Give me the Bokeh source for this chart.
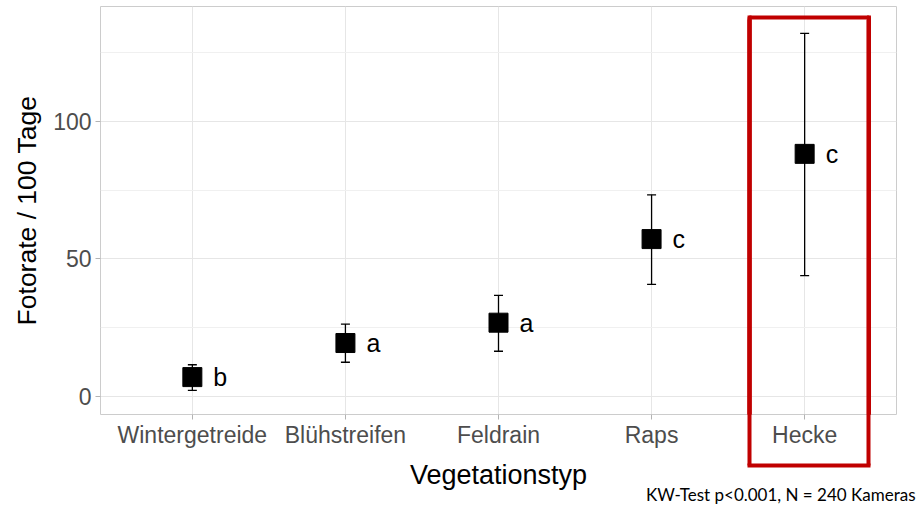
from bokeh.plotting import figure
from bokeh.models import (Whisker, TeeHead, FixedTicker, BoxAnnotation, Title, LinearAxis,
                          ColumnDataSource, Range1d)
from bokeh.core.properties import value
from bokeh.embed import file_html
from bokeh.resources import INLINE

categories = ["Wintergetreide", "Blühstreifen", "Feldrain", "Raps", "Hecke"]
means = [7.0, 19.4, 26.8, 57.2, 88.2]
upper = [11.5, 26.3, 36.7, 73.3, 132.0]
lower = [2.2, 12.4, 16.4, 40.7, 43.9]
letters = ["b", "a", "a", "c", "c"]
y_ticks = [0, 50, 100]
y_minor = [25, 75, 125]
footnote = "KW-Test p<0.001, N = 240 Kameras"
highlight = "Hecke"

xs = list(range(1, len(categories) + 1))
src = ColumnDataSource(dict(x=xs, m=means, up=upper, lo=lower, lab=letters))

FONT = "Liberation Sans"
RED = "#c00000"

p = figure(width=920, height=507, output_backend="svg", toolbar_location=None,
           x_range=Range1d(0.4, len(categories) + 0.6), y_range=Range1d(-6.6, 141.8),
           min_border_left=100, min_border_right=24, min_border_top=6, min_border_bottom=93)
p.background_fill_color = "white"
p.border_fill_color = "white"
p.outline_line_color = "#cccccc"
p.outline_line_width = 1

# grid
p.xgrid.ticker = FixedTicker(ticks=xs)
p.ygrid.ticker = FixedTicker(ticks=y_ticks, minor_ticks=y_minor)
for g in (p.xgrid, p.ygrid):
    g.grid_line_color = "#e6e6e6"
    g.grid_line_width = 1
p.ygrid.minor_grid_line_color = "#f0f0f0"
p.ygrid.minor_grid_line_width = 1

# axes
p.xaxis.ticker = FixedTicker(ticks=xs)
p.xaxis.major_label_overrides = {x: c for x, c in zip(xs, categories)}
p.yaxis.ticker = FixedTicker(ticks=y_ticks, minor_ticks=[])
for ax in (p.xaxis, p.yaxis):
    ax.axis_line_color = None
    ax.major_tick_line_color = "#b3b3b3"
    ax.major_tick_out = 5
    ax.major_tick_in = 0
    ax.minor_tick_line_color = None
    ax.major_label_text_font = FONT
    ax.major_label_text_font_size = "23px"
    ax.major_label_text_color = "#4d4d4d"
    ax.axis_label_text_font = FONT
    ax.axis_label_text_font_style = "normal"
    ax.axis_label_text_color = "black"
p.yaxis.axis_label_text_font_size = "26.5px"
p.yaxis.axis_label = "Fotorate / 100 Tage"
p.xaxis.major_label_standoff = 2
p.yaxis.major_label_standoff = 4
p.yaxis.axis_label_standoff = 8

# highlight box around Hecke: upper part inside the panel
hx = categories.index(highlight) + 1
box_left, box_right, box_top, box_bottom = hx - 0.36, hx + 0.42, 137.8, -30.0
box = BoxAnnotation(left=box_left, right=box_right, top=box_top, bottom=box_bottom,
                    fill_color=None, fill_alpha=0, line_color=RED, line_alpha=1.0, line_width=4)
p.add_layout(box)
p.segment(x0=[box_left, box_right], y0=[box_bottom, box_bottom],
          x1=[box_left, box_right], y1=[box_top, box_top],
          line_color=RED, line_width=4, line_cap="square")

# invisible spacer between tick labels and the lower edge of the highlight box
spacer = LinearAxis(ticker=FixedTicker(ticks=[p.x_range.start], minor_ticks=[]), axis_line_color=None,
                    major_tick_out=15, major_tick_in=0, major_tick_line_color="white",
                    minor_tick_line_color=None, major_label_standoff=0,
                    major_label_text_font_size="0px",
                    major_label_overrides={p.x_range.start: ""})
p.add_layout(spacer, "below")

# lower part of the highlight box (extends over the "Hecke" tick label), carries the x title
red_axis = LinearAxis(ticker=FixedTicker(ticks=[box_left, box_right], minor_ticks=[]),
                      bounds=(box_left, box_right),
                      axis_line_color=RED, axis_line_width=4, axis_line_cap="square",
                      major_tick_line_color=RED, major_tick_line_width=4, major_tick_line_cap="butt",
                      major_tick_in=446, major_tick_out=0, minor_tick_line_color=None,
                      major_label_text_font_size="0px", major_label_standoff=0,
                      major_label_overrides={box_left: "", box_right: ""},
                      axis_label="Vegetationstyp", axis_label_standoff=-6,
                      axis_label_text_font=FONT, axis_label_text_font_size="27px",
                      axis_label_text_font_style="normal", axis_label_text_color="black")
p.add_layout(red_axis, "below")

# error bars
w = Whisker(source=src, base="x", upper="up", lower="lo", line_color="black", line_width=1.3,
            upper_head=TeeHead(size=9, line_color="black", line_width=1.3),
            lower_head=TeeHead(size=9, line_color="black", line_width=1.3))
p.add_layout(w)

p.scatter("x", "m", source=src, marker="square", size=19, fill_color="black", line_color="black")
p.text("x", "m", text="lab", source=src, x_offset=21, text_baseline="middle", text_align="left",
       text_font=value(FONT), text_font_size="25px", text_color="black")

p.add_layout(Title(text=footnote, align="right", text_font="Lato", text_font_size="17px",
                   text_font_style="normal", text_color="black", standoff=-21, offset=-19), "below")

open("out.html", "w").write(file_html(p, INLINE))
